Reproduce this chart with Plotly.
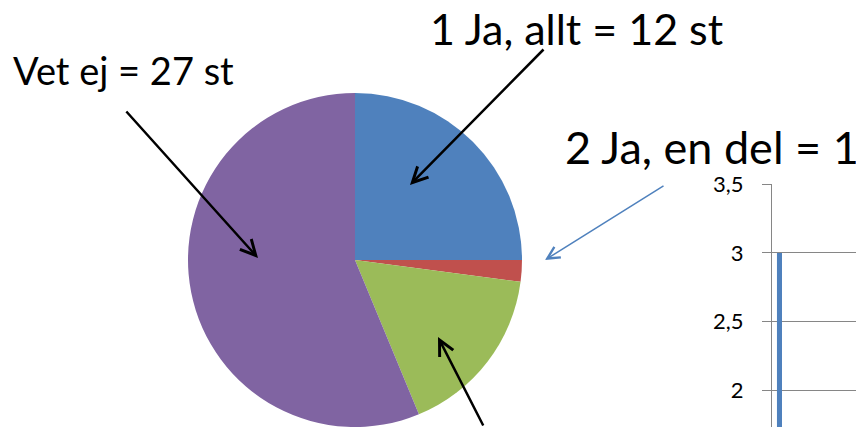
import plotly.graph_objects as go

W, H = 856, 427

# pie data
pie_labels = ["1 Ja, allt", "2 Ja, en del", "3", "Vet ej"]
pie_values = [12, 1, 8, 27]
pie_colors = ["#4F81BD", "#C0504D", "#9BBB59", "#8064A2"]

# partial bar chart on the right
bar_categories = ["1"]
bar_values = [3]
y_ticks = [2, 2.5, 3, 3.5]

FONT = "Lato, Carlito, Calibri, sans-serif"


def px(x, y):
    return x / W, 1 - y / H


fig = go.Figure()

pie_x0, pie_y0 = px(188, 427)
pie_x1, pie_y1 = px(522, 93)
fig.add_trace(
    go.Pie(
        labels=pie_labels,
        values=pie_values,
        sort=False,
        direction="clockwise",
        rotation=0,
        marker={"colors": pie_colors, "line": {"width": 0}},
        textinfo="none",
        hoverinfo="label+value",
        domain={"x": [pie_x0, pie_x1], "y": [max(pie_y0, 0), pie_y1]},
        showlegend=False,
    )
)

fig.add_trace(
    go.Bar(
        x=bar_categories,
        y=bar_values,
        width=0.06,
        marker={"color": "#4F81BD", "line": {"width": 0}},
        showlegend=False,
    )
)

annotations = []

# text labels
for text, x, y, size in [
    ("1 Ja, allt = 12 st", 428, 29, 43),
    ("Vet ej = 27 st", 11, 70, 38),
    ("2 Ja, en del = 1 st", 563, 147, 45),
]:
    xp, yp = px(x, y)
    annotations.append(
        {
            "x": xp,
            "y": yp,
            "xref": "paper",
            "yref": "paper",
            "xanchor": "left",
            "yanchor": "middle",
            "text": text,
            "showarrow": False,
            "font": {"family": FONT, "size": size, "color": "#000000"},
        }
    )

# arrows: head position, tail offset, colour, width, size
for hx, hy, ax, ay, color, width, size in [
    (410, 185, 135, -137, "#000000", 2.5, 1.2),
    (545, 260, 120, -75, "#4F81BD", 1.5, 1.6),
    (258, 258, -133, -148, "#000000", 2.5, 1.2),
    (438, 337, 46, 113, "#000000", 2.5, 1.2),
]:
    xp, yp = px(hx, hy)
    annotations.append(
        {
            "x": xp,
            "y": yp,
            "xref": "paper",
            "yref": "paper",
            "ax": ax,
            "ay": ay,
            "text": "",
            "showarrow": True,
            "arrowhead": 5,
            "arrowsize": size,
            "arrowwidth": width,
            "arrowcolor": color,
            "standoff": 0,
        }
    )

bar_left, _ = px(772, 0)
_, bar_top = px(0, 184)

fig.update_layout(
    width=W,
    height=H,
    autosize=False,
    margin={"l": 0, "r": 0, "t": 0, "b": 0, "pad": 0, "autoexpand": False},
    paper_bgcolor="#FFFFFF",
    plot_bgcolor="#FFFFFF",
    separators=", ",
    font={"family": FONT, "color": "#000000"},
    annotations=annotations,
    xaxis={
        "domain": [bar_left, 1],
        "type": "category",
        "range": [-0.089, 0.911],
        "showticklabels": False,
        "showgrid": False,
        "zeroline": False,
        "showline": False,
        "automargin": False,
        "fixedrange": True,
    },
    yaxis={
        "domain": [0, bar_top],
        "range": [3.5 - (427 - 184) / 137.3, 3.503],
        "tickvals": y_ticks,
        "showgrid": True,
        "gridcolor": "#868686",
        "gridwidth": 1,
        "zeroline": False,
        "showline": True,
        "linecolor": "#868686",
        "linewidth": 1,
        "ticks": "outside",
        "ticklen": 9,
        "tickcolor": "#868686",
        "ticklabelstandoff": 14,
        "automargin": False,
        "tickfont": {"family": FONT, "size": 22, "color": "#000000"},
        "fixedrange": True,
    },
)

# drop the default body margin so the figure fills the window exactly
fig.write_html(
    "out.html",
    config={"displayModeBar": False},
    post_script="document.body.style.margin = '0'; document.body.style.overflow = 'hidden';",
)
